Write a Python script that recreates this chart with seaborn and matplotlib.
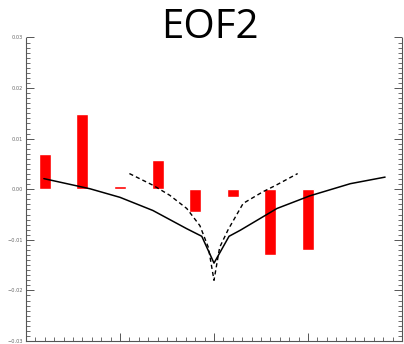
import matplotlib
matplotlib.use("Agg")
import matplotlib.pyplot as plt
from matplotlib.ticker import MultipleLocator, FuncFormatter
import seaborn as sns

# EOF2 loadings per station
bar_x = [0.2, 0.6, 1.0, 1.4, 1.8, 2.2, 2.6, 3.0]
bar_val = [0.0069, 0.0148, 0.00065, 0.0057, -0.0044, -0.0015, -0.0129, -0.0120]

# Fitted profile (solid)
fit_x = [0.19, 0.68, 1.00, 1.35, 1.71, 1.87, 2.00, 2.16, 2.28, 2.67, 3.02, 3.45, 3.82]
fit_y = [0.0021, 0.0001, -0.0016, -0.0042, -0.0078, -0.0093, -0.0146,
         -0.0093, -0.0081, -0.0038, -0.0013, 0.0011, 0.0024]

# Reference profile (dashed)
ref_x = [1.10, 1.35, 1.53, 1.71, 1.85, 1.94, 2.00, 2.06, 2.15, 2.31, 2.52, 2.66, 2.89]
ref_y = [0.0031, 0.0008, -0.0012, -0.0038, -0.0072, -0.0115, -0.0180,
         -0.0115, -0.0080, -0.0028, -0.0005, 0.0008, 0.0031]

sns.set_theme(style="white")
plt.rcParams["font.family"] = ["DejaVu Sans"]

W, H = 404, 344
fig = plt.figure(figsize=(W / 100, H / 100), dpi=100)
ax = fig.add_axes([26 / W, 1 - 341 / H, (402 - 26) / W, (341 - 37.5) / H])

sns.barplot(x=bar_x, y=bar_val, native_scale=True, width=0.32,
            color="#ff0000", saturation=1, errorbar=None, ax=ax, zorder=2)
sns.lineplot(x=fit_x, y=fit_y, color="black", linewidth=1.1, ax=ax,
             sort=False, zorder=3)
sns.lineplot(x=ref_x, y=ref_y, color="black", linewidth=1.0, ax=ax,
             sort=False, zorder=3, dashes=False, linestyle=(0, (3, 2.2)))

ax.set_xlim(0, 4)
ax.set_ylim(-0.03, 0.03)

ax.xaxis.set_major_locator(MultipleLocator(1))
ax.xaxis.set_minor_locator(MultipleLocator(0.1))
ax.yaxis.set_major_locator(MultipleLocator(0.01))
ax.yaxis.set_minor_locator(MultipleLocator(0.001))
ax.yaxis.set_major_formatter(
    FuncFormatter(lambda v, _: f"{v:.2f}".replace("-", "\u2212")
                  if abs(v) > 1e-9 else "0.00"))
ax.set_xticklabels([])

spine_col = "#555555"
for side in ["left", "right", "bottom"]:
    ax.spines[side].set_visible(True)
    ax.spines[side].set_color(spine_col)
    ax.spines[side].set_linewidth(0.8)
ax.spines["top"].set_visible(False)

ax.tick_params(axis="both", which="both", direction="in", colors=spine_col,
               left=True, right=True, bottom=True, top=False,
               labelright=False, labelbottom=False)
ax.tick_params(which="major", length=6, width=0.7, labelsize=3.6,
               pad=2, labelcolor="#666666")
ax.tick_params(which="minor", length=3, width=0.6)
ax.set_xlabel("")
ax.set_ylabel("")

fig.text(210 / W, 1 - 28 / H, "EOF2", ha="center", va="center",
         fontsize=29, family=["Open Sans", "DejaVu Sans"], color="black")

fig.savefig("out.png", dpi=100)
